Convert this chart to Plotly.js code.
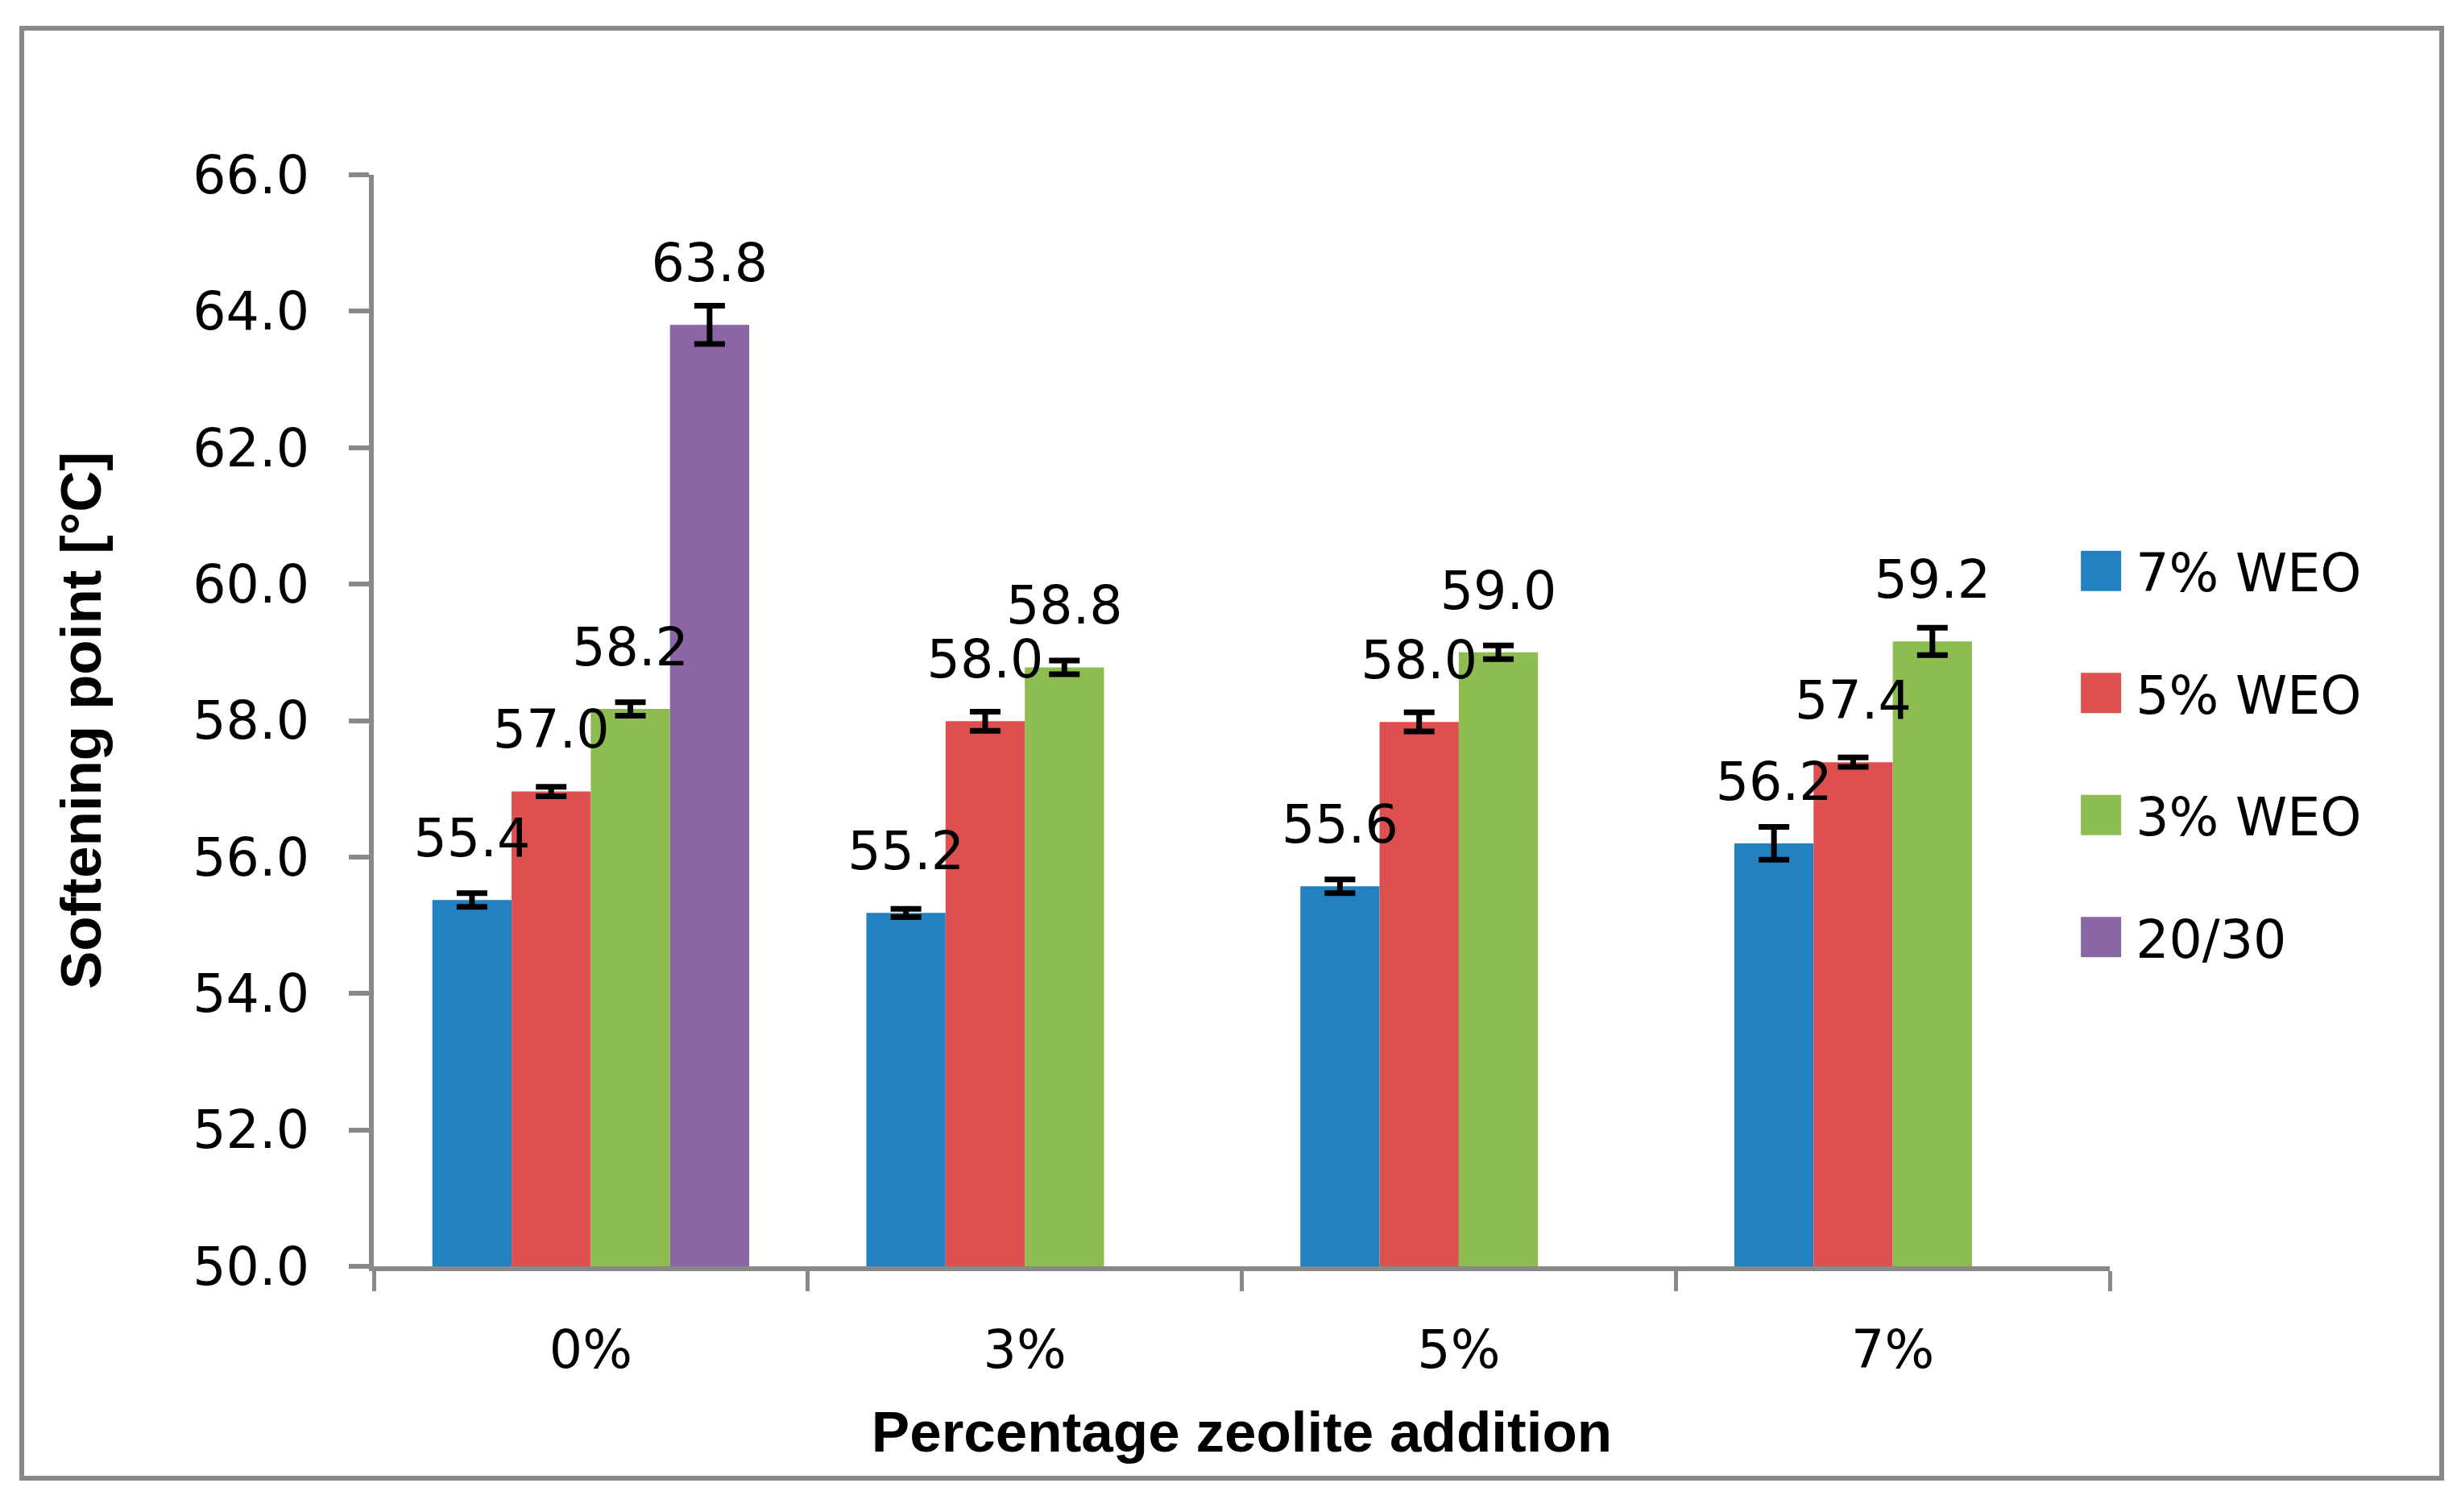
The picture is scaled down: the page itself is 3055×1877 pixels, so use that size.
<!DOCTYPE html>
<html>
<head>
<meta charset="utf-8">
<script src="https://cdn.plot.ly/plotly-3.0.1.min.js"></script>
<style>
  html, body { margin: 0; padding: 0; background: #ffffff; }
  #chart { width: 3055px; height: 1877px; }
</style>
</head>
<body>
<div id="chart"></div>
<script>
// ---- data ----
var categories = ['0%', '3%', '5%', '7%'];
var seriesNames = ['7% WEO', '5% WEO', '3% WEO', '20/30'];
var weo7 = [55.37, 55.18, 55.57, 56.20];
var weo5 = [56.96, 57.99, 57.98, 57.39];
var weo3 = [58.17, 58.78, 59.00, 59.16];
var bit2030 = [63.80, null, null, null];
var err7 = [0.10, 0.06, 0.10, 0.24];
var err5 = [0.07, 0.14, 0.14, 0.07];
var err3 = [0.10, 0.10, 0.10, 0.20];
var err2030 = [0.28, null, null, null];
var yTickVals = [50, 52, 54, 56, 58, 60, 62, 64, 66];

var colors = ['#2481C1', '#DE5050', '#8DBD50', '#8A66A5'];
var values = [weo7, weo5, weo3, bit2030];
var errors = [err7, err5, err3, err2030];

var FONT = 'DejaVu Sans';
var TITLEFONT = 'Liberation Sans';
var GRAY = '#898989';

var traces = [];
for (var i = 0; i < values.length; i++) {
  traces.push({
    type: 'bar',
    name: seriesNames[i],
    x: categories,
    y: values[i],
    legendgroup: 'g' + i,
    marker: { color: colors[i], line: { width: 0 } },
    error_y: { type: 'data', array: errors[i], visible: true, color: '#000000', thickness: 7, width: 19 },
    hoverinfo: 'skip'
  });
}
// data labels, grouped like the bars
for (var j = 0; j < values.length; j++) {
  traces.push({
    type: 'scatter',
    mode: 'markers+text',
    orientation: 'v',
    x: categories,
    y: values[j],
    texttemplate: '%{y:.1f}',
    textposition: 'top center',
    textfont: { family: FONT, size: 65, color: '#000000' },
    marker: { size: 59, opacity: 0, color: colors[j] },
    showlegend: false,
    cliponaxis: false,
    hoverinfo: 'skip'
  });
}

var layout = {
  width: 3055,
  height: 1877,
  autosize: false,
  paper_bgcolor: '#ffffff',
  plot_bgcolor: '#ffffff',
  font: { family: FONT, size: 65, color: '#000000' },
  margin: { l: 464, r: 436, t: 217, b: 305, pad: 0 },
  barmode: 'group',
  bargap: 0.27,
  bargroupgap: 0,
  scattermode: 'group',
  scattergap: 0.27,
  showlegend: true,
  legend: {
    x: 0.975, xanchor: 'left',
    y: 0.673, yanchor: 'top',
    font: { family: FONT, size: 65, color: '#000000' },
    itemwidth: 76,
    tracegroupgap: 64,
    bgcolor: 'rgba(0,0,0,0)',
    borderwidth: 0
  },
  xaxis: {
    type: 'category',
    showgrid: false,
    zeroline: false,
    showline: true,
    linecolor: GRAY,
    linewidth: 6,
    ticks: 'outside',
    tickson: 'boundaries',
    ticklen: 25,
    tickwidth: 5,
    tickcolor: GRAY,
    ticklabelstandoff: 42,
    tickfont: { family: FONT, size: 65, color: '#000000' },
    title: { text: 'Percentage zeolite addition', font: { family: TITLEFONT, size: 71, color: '#000000', weight: 'bold' }, standoff: 42 }
  },
  yaxis: {
    range: [50, 66],
    tickvals: yTickVals,
    tickformat: '.1f',
    showgrid: false,
    zeroline: false,
    showline: true,
    linecolor: GRAY,
    linewidth: 6,
    ticks: 'outside',
    ticklen: 25,
    tickwidth: 6,
    tickcolor: GRAY,
    ticklabelstandoff: 36,
    tickfont: { family: FONT, size: 65, color: '#000000' },
    title: { text: 'Softening point [°C]', font: { family: TITLEFONT, size: 71, color: '#000000', weight: 'bold' }, standoff: 92 }
  },
  yaxis2: {
    overlaying: 'y',
    anchor: 'x',
    side: 'left',
    range: [50, 66],
    tickvals: yTickVals,
    showgrid: false,
    zeroline: false,
    showline: false,
    ticks: 'inside',
    ticklen: 25,
    tickwidth: 6,
    tickcolor: GRAY,
    showticklabels: false
  },
  shapes: [{
    type: 'rect', xref: 'paper', yref: 'paper',
    x0: -0.2028, x1: 1.1912, y0: -0.1941, y1: 1.1343,
    line: { color: GRAY, width: 6 },
    fillcolor: 'rgba(0,0,0,0)',
    layer: 'below'
  }]
};

var gd = document.getElementById('chart');
function enlargeLegendSwatches() {
  var paths = gd.querySelectorAll('g.legendpoints path');
  for (var k = 0; k < paths.length; k++) {
    paths[k].setAttribute('d', 'M25,25H-25V-25H25Z');
  }
}
Plotly.newPlot(gd, traces, layout, { staticPlot: true, displayModeBar: false }).then(function () {
  enlargeLegendSwatches();
  setTimeout(enlargeLegendSwatches, 0);
  setTimeout(enlargeLegendSwatches, 300);
});
gd.on && gd.on('plotly_afterplot', enlargeLegendSwatches);
</script>
</body>
</html>
